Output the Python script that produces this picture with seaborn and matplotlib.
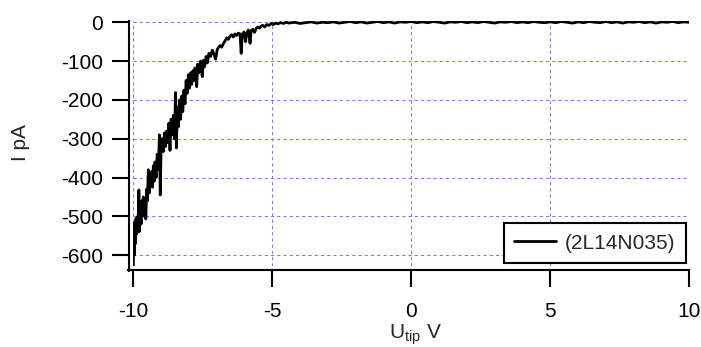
import matplotlib
matplotlib.use("Agg")
import matplotlib.pyplot as plt
import seaborn as sns
import pandas as pd

# ---- data ----
volts = [
    -10.00, -9.98, -9.96, -9.94, -9.92, -9.90, -9.88, -9.85, -9.82, -9.80,
    -9.78, -9.75, -9.72, -9.70, -9.67, -9.64, -9.61, -9.58, -9.55, -9.52,
    -9.49, -9.46, -9.43, -9.40, -9.37, -9.34, -9.31, -9.28, -9.25, -9.22,
    -9.18, -9.14, -9.10, -9.06, -9.03, -9.00, -8.96, -8.92, -8.88, -8.84,
    -8.80, -8.76, -8.72, -8.68, -8.64, -8.60, -8.56, -8.52, -8.48, -8.45,
    -8.42, -8.38, -8.34, -8.30, -8.26, -8.22, -8.18, -8.14, -8.10, -8.06,
    -8.02, -7.98, -7.94, -7.90, -7.86, -7.82, -7.78, -7.72, -7.68, -7.64,
    -7.58, -7.52, -7.48, -7.44, -7.38, -7.34, -7.28, -7.22, -7.16, -7.10,
    -7.04, -6.98, -6.94, -6.88, -6.82, -6.76, -6.70, -6.64, -6.58, -6.52,
    -6.46, -6.40, -6.34, -6.28, -6.22, -6.16, -6.12, -6.08, -6.02, -5.96,
    -5.92, -5.86, -5.80, -5.76, -5.70, -5.64, -5.58, -5.52, -5.46, -5.40,
    -5.34, -5.28, -5.20, -5.12, -5.04, -4.96, -4.88, -4.80, -4.70, -4.60,
    -4.50, -4.40, -4.20, -4.00, -3.80, -3.60, -3.40, -3.20, -3.00, -2.80,
    -2.60, -2.40, -2.20, -2.00, -1.80, -1.60, -1.40, -1.20, -1.00, -0.80,
    -0.60, -0.40, -0.20, 0.00, 0.20, 0.40, 0.60, 0.80, 1.00, 1.20,
    1.40, 1.60, 1.80, 2.00, 2.20, 2.40, 2.60, 2.80, 3.00, 3.20,
    3.40, 3.60, 3.80, 4.00, 4.20, 4.40, 4.60, 4.80, 5.00, 5.20,
    5.40, 5.60, 5.80, 6.00, 6.20, 6.40, 6.60, 6.80, 7.00, 7.20,
    7.40, 7.60, 7.80, 8.00, 8.20, 8.40, 8.60, 8.80, 9.00, 9.20,
    9.40, 9.60, 9.80, 10.00,
]
current = [
    -628, -520, -600, -515, -570, -505, -545, -500, -540, -432,
    -539, -470, -520, -460, -500, -450, -490, -455, -507, -430,
    -460, -380, -440, -390, -420, -385, -425, -370, -410, -360,
    -400, -340, -380, -290, -445, -320, -300, -333, -285, -320,
    -280, -310, -260, -330, -250, -290, -240, -300, -181, -324,
    -220, -270, -200, -250, -190, -230, -175, -210, -150, -183,
    -135, -170, -130, -160, -125, -150, -118, -166, -108, -130,
    -100, -140, -98, -115, -88, -105, -80, -88, -72, -82,
    -95, -70, -65, -60, -64, -55, -48, -40, -44, -36,
    -32, -38, -30, -34, -28, -30, -80, -32, -25, -50,
    -28, -20, -54, -22, -18, -26, -16, -12, -15, -10,
    -8, -12, -6, -8, -3, -6, -2, -4, -1, -3,
    0, -2, 0, -3, -1, 1, -2, 0, -1, 1,
    -2, 0, 2, -1, 1, -2, 0, 2, -1, 1,
    -2, 1, 0, 2, -1, 1, -1, 2, 0, -2,
    1, 0, 2, -1, 1, -1, 2, 0, -2, 1,
    0, 2, -1, 1, -1, 2, 0, -1, 1, -1,
    2, 0, -2, 1, -1, 2, 0, -1, 2, -1,
    1, -2, 1, 0, 2, -1, 1, -2, 1, 0,
    2, -1, 1, 0,
]
series_label = "(2L14N035)"
x_ticks = [-10, -5, 0, 5, 10]
y_ticks = [0, -100, -200, -300, -400, -500, -600]

# ---- style ----
sns.set_style("white")
plt.rcParams["font.family"] = ["Liberation Sans", "DejaVu Sans"]
plt.rcParams["mathtext.default"] = "regular"
plt.rcParams["axes.unicode_minus"] = False

FS = 15
W, H = 701, 347
fig = plt.figure(figsize=(W / 100, H / 100), dpi=100)
left_px, right_px, top_px, bottom_px = 133.3, 689.3, 21.0, 266.0
ax = fig.add_axes([left_px / W, 1 - bottom_px / H,
                   (right_px - left_px) / W, (bottom_px - top_px) / H])

df = pd.DataFrame({"U": volts, "I": current})
sns.lineplot(data=df, x="U", y="I", ax=ax, color="black", linewidth=2.0,
             sort=False, estimator=None, label=series_label)

ax.set_xlim(-10, 10)
ax.set_ylim(-628, 3.3)
ax.set_xticks(x_ticks)
ax.set_xticklabels([str(v) for v in x_ticks])
ax.set_yticks(y_ticks)
ax.set_yticklabels([str(v) for v in y_ticks])

ax.grid(True, color="#7777ff", linestyle=(0, (3, 3)), linewidth=0.75)
ax.set_axisbelow(True)

for s in ["top", "right"]:
    ax.spines[s].set_visible(False)
for s in ["left", "bottom"]:
    ax.spines[s].set_position(("outward", 3.2))
    ax.spines[s].set_linewidth(1.5)
    ax.spines[s].set_color("black")
ax.spines["bottom"].set_bounds(-10.2, 10)
ax.spines["left"].set_bounds(-640, 3.3)

ax.tick_params(axis="both", direction="out", length=12, width=1.5,
               labelsize=FS, colors="black", bottom=True, left=True,
               top=False, right=False)
ax.tick_params(axis="x", pad=10.5)
ax.tick_params(axis="y", pad=6.5)
ax.set_xlabel("")
ax.set_ylabel("")

leg = ax.legend(loc="lower right", bbox_to_anchor=(0.994, 0.012),
                borderaxespad=0, frameon=True, fancybox=False,
                edgecolor="black", framealpha=1, fontsize=FS,
                handlelength=2.0, handletextpad=0.45, borderpad=0.5)
leg.get_frame().set_linewidth(1.5)

fig.text(20 / W, 1 - 143 / H, "I pA", rotation=90, ha="center", va="center",
         fontsize=FS)
fig.text(415 / W, 1 - 339 / H, "U$_{tip}$ V", ha="center", va="baseline",
         fontsize=FS)

fig.savefig("out.png", dpi=100)
